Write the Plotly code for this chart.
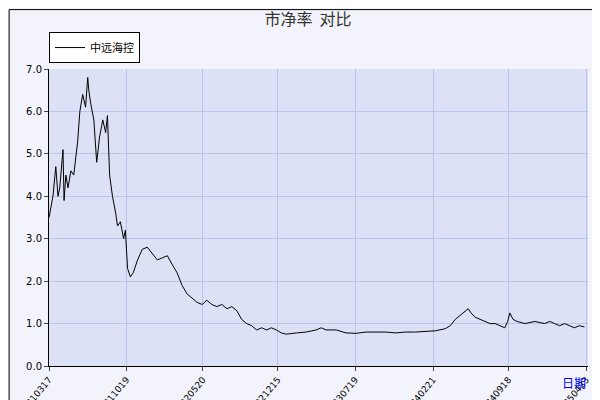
import datetime as dt
import plotly.graph_objects as go

start = dt.date(2021, 3, 17)
day_offsets = [0,11,19,25,30,39,42,47,53,61,69,80,86,94,102,108,111,116,125,133,141,150,158,163,169,177,186,191,199,208,213,219,227,235,247,260,274,288,302,316,330,343,357,371,385,399,413,427,440,454,468,482,496,510,524,537,551,565,579,593,607,620,634,648,662,690,717,745,759,773,801,828,856,884,911,939,967,994,1022,1050,1078,1105,1119,1133,1147,1161,1169,1177,1188,1202,1216,1230,1244,1258,1271,1279,1285,1294,1305,1327,1355,1382,1396,1410,1424,1438,1452,1465,1479,1493]
pb_values = [3.5,4.0,4.7,4.0,4.2,5.1,3.9,4.5,4.2,4.6,4.5,5.3,6.0,6.4,6.1,6.8,6.5,6.2,5.8,4.8,5.4,5.8,5.5,5.9,4.5,4.0,3.6,3.3,3.4,3.0,3.2,2.3,2.1,2.2,2.5,2.75,2.8,2.65,2.5,2.55,2.6,2.4,2.2,1.9,1.7,1.6,1.5,1.45,1.55,1.45,1.4,1.45,1.35,1.4,1.3,1.1,1.0,0.95,0.85,0.9,0.85,0.9,0.85,0.78,0.75,0.78,0.8,0.85,0.9,0.85,0.85,0.78,0.77,0.8,0.8,0.8,0.78,0.8,0.8,0.82,0.83,0.88,0.95,1.1,1.2,1.3,1.35,1.25,1.15,1.1,1.05,1.0,1.0,0.95,0.9,1.05,1.25,1.1,1.05,1.0,1.05,1.0,1.05,1.0,0.95,1.0,0.95,0.9,0.95,0.92]
tick_dates = ["2021-03-17","2021-10-19","2022-05-20","2022-12-15","2023-07-19","2024-02-21","2024-09-18","2025-04-23"]
tick_labels = ["20210317","20211019","20220520","20221215","20230719","20240221","20240918","20250423"]

dates = [start + dt.timedelta(days=d) for d in day_offsets]

fig = go.Figure(go.Scatter(x=dates, y=pb_values, mode="lines", name="中远海控",
                           line=dict(color="black", width=1)))
fig.update_layout(
    width=600, height=400, margin=dict(l=41, r=20, t=61, b=42),
    paper_bgcolor="#F3F4FB", plot_bgcolor="#DCE1F5",
    font=dict(family="DejaVu Sans", size=10, color="black"),
    title=dict(text="市净率  对比", x=0.5, y=0.985, yanchor="top", xanchor="center",
               font=dict(family="Noto Sans CJK SC", size=16, color="#333")),
    showlegend=True,
    legend=dict(x=0.0, y=1.02, xanchor="left", yanchor="bottom", bgcolor="white",
                bordercolor="black", borderwidth=1, itemwidth=30, tracegroupgap=0,
                font=dict(family="Noto Sans CJK SC", size=11)),
    xaxis=dict(range=["2021-03-17", "2025-04-28"], tickvals=tick_dates, ticktext=tick_labels,
               tickangle=-50, gridcolor="#B8C4EB", showline=True, linecolor="black",
               ticks="outside", ticklen=4, tickfont=dict(size=9), automargin=False),
    yaxis=dict(range=[0, 7], dtick=1, tickformat=".1f", gridcolor="#B8C4EB",
               showline=True, linecolor="black", ticks="outside", ticklen=4, zeroline=False,
               automargin=False),
    shapes=[dict(type="rect", xref="paper", yref="paper", x0=-0.074, x1=1.033, y0=-0.14, y1=1.2,
                 line=dict(color="black", width=1))],
    annotations=[dict(text="日期", xref="paper", yref="paper", x=1.0, y=-0.09, showarrow=False,
                      font=dict(color="blue", size=12, family="Noto Sans CJK SC"))],
)
fig.write_html("out.html")
